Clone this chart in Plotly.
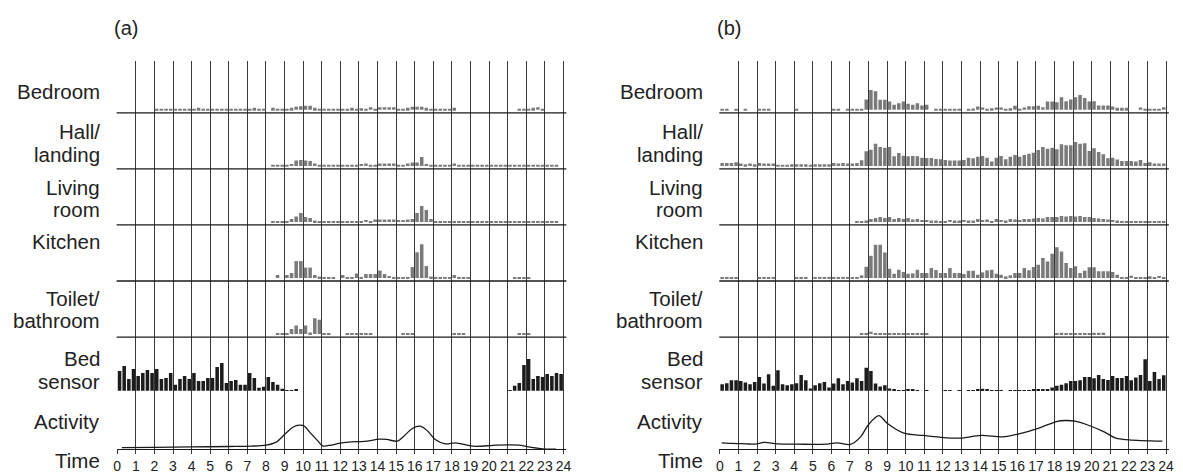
import numpy as np
import plotly.graph_objects as go

# ---------------- data (15-minute bins, 96 per day) ----------------
HOURS = list(range(25))

A_BEDROOM = [0,0,0,0, 0,0,0,0, .7,.7,.7,.7, .7,.7,.7,.7, .7,2,.7,.7, .7,.7,.7,.7,
             .7,.7,.7,.7, .7,2,.7,.7, 0,2,.7,.7, .7,2,3,3.5, 4,4,2,.7, .7,.7,.7,.7,
             .7,.7,2,.7, 1.5,.7,2.5,.7, 2.5,2.5,2.5,2.5, .7,.7,2,3, 3,3,2,.7, .7,.7,.7,.7,
             2,0,0,0, 0,0,0,0, 0,0,0,0, 0,0,.7,.7, .7,2,2.5,.7, 0,0,0,0]
A_HALL = [0,0,0,0, 0,0,0,0, 0,0,0,0, 0,0,0,0, 0,0,0,0, 0,0,0,0,
          0,0,0,0, 0,0,0,0, 0,.7,.7,.7, .7,2,5.5,6, 5.5,5,2.5,.7, .7,.7,.7,.7,
          .7,.7,.7,.7, 2,2.5,.7,.7, 2.5,2.5,2.5,2.5, .7,.7,2.5,3.5, 3.5,9,2,.7, .7,.7,.7,.7,
          2.5,.7,.7,.7, .7,.7,.7,.7, .7,.7,.7,.7, .7,.7,.7,.7, .7,.7,.7,.7, .7,.7,.7,0]
A_LIVING = [0,0,0,0, 0,0,0,0, 0,0,0,0, 0,0,0,0, 0,0,0,0, 0,0,0,0,
            0,0,0,0, 0,0,0,0, 0,.7,.7,.7, .7,3,5.5,9, 5,4,1.5,.7, .7,.7,.7,.7,
            .7,.7,.7,.7, .7,2,.7,2.5, 2.5,2.5,2.5,2.5, 2,2,2.5,3, 9,16,12,3, .7,.7,.7,.7,
            .7,.7,.7,.7, .7,.7,.7,.7, .7,.7,.7,.7, .7,.7,.7,.7, .7,.7,.7,.7, .7,.7,.7,0]
A_KITCHEN = [0,0,0,0, 0,0,0,0, 0,0,0,0, 0,0,0,0, 0,0,0,0, 0,0,0,0,
             0,0,0,0, 0,0,0,0, 0,0,3,0, 3,5,17,17, 10.5,10.5,3,1.5, .7,.7,.7,0,
             3,.7,.7,4.5, .7,4,4,4, 7.5,4,2,.7, .7,.7,.7,11, 26,34,12,1.5, .7,.7,.7,.7,
             3,.7,.7,.7, 0,0,0,0, 0,0,0,0, 0,.7,.7,.7, .7,0,0,0, 0,0,0,0]
A_TOILET = [0,0,0,0, 0,0,0,0, 0,0,0,0, 0,0,0,0, 0,0,0,0, 0,0,0,0,
            0,0,0,0, 0,0,0,0, 0,0,.7,.7, .7,5,8.5,5, 8.5,1.5,16,14.5, .7,.7,0,0,
            0,.7,.7,.7, .7,.7,.7,0, 0,0,0,0, 0,.7,.7,.7, 0,0,0,0, 0,0,0,0,
            .7,.7,.7,0, 0,0,0,0, 0,0,0,0, 0,0,.7,.7, .7,0,0,0, 0,0,0,0]
A_BED = [20,25,12,22, 15,18,21,18, 22,12,13,18, 6,12,15,12, 18,10,10,13, 13,24,28,8,
         10,11,6,6, 18,13,3,4, 14,9,6,2, .7,.7,1,0, 0,0,0,0, 0,0,0,0,
         0,0,0,0, 0,0,0,0, 0,0,0,0, 0,0,0,0, 0,0,0,0, 0,0,0,0,
         0,0,0,0, 0,0,0,0, 0,0,0,0, .7,5,8,26, 32,12,15,14, 17,15,18,17]
A_ACT_T = [0.25, 2, 4, 6, 7.2, 8.0, 8.55, 9.0, 9.45, 9.8, 10.07, 10.4, 10.8, 11.05, 11.5,
           12.0, 12.6, 13.3, 14.1, 14.5, 15.06, 15.4, 15.87, 16.3, 16.7, 17.1, 17.65,
           18.2, 18.8, 19.3, 20.4, 21.65, 22.2, 22.9, 23.6]
A_ACT_V = [1.5, 1.8, 2.2, 2.6, 3, 4, 7, 14.7, 22, 24, 23, 16, 8, 3.3, 4,
           6, 7.3, 7.7, 10, 9.7, 8, 12.7, 20.7, 23, 18, 9.7, 5.3,
           6.3, 4, 2.7, 4, 4, 2, 0.3, 0]

B_BEDROOM = [.7,.7,0,.7, 0,.7,0,0, .7,.7,.7,0, 0,0,0,0, .7,0,0,0, 0,0,0,0,
             .7,.7,0,.7, .7,.7,.7,10.3, 20,18.7,10,10, 8.3,5,6.7,8.3, 6,5,6.7,4.3, 5,0,.7,.7,
             .7,.7,.7,.7, 0,.7,1.3,3.3, 2.3,1,1.7,2.3, 2.3,1,1.7,4, 1,2.3,3.7,3.7, 4,2.7,8.3,8.3,
             7.7,12.7,8.7,10.3, 12.7,15,12,8.3, 8.7,4.3,4.3,4.3, 3.3,2,2,2, 0,0,2.3,1, 1,1,1,2.7]
B_HALL = [3,3,3,3.7, 2.3,1.7,2.3,1.7, 3,2.3,2.3,2.3, 1,1,1,1.7, 1.7,1.7,1.7,1, 1.7,1.7,1.7,1.7,
          3,2.3,3,2.3, 2.3,3,5.7,14.7, 16.3,22.3,19,18.3, 19,9.7,13,10.3, 9.7,10,9.7,8.3, 8,8,7,6.7,
          6,5.3,5.3,5.3, 6,8.3,7.7,9.3, 10,8.3,4.3,8.3, 10,6.7,9.3,11, 9.3,11,12.3,13.3, 16,19,17.3,18.3,
          16.7,21.7,20.7,20.7, 24,22.3,22.7,15, 17.7,14,11.7,7.7, 8.3,6.3,5,5, 5,4.3,6,3, 3.7,2.3,2.3,2.3]
B_LIVING = [0,0,0,0, 0,0,0,0, 0,0,0,0, 0,0,0,0, 0,0,0,0, 0,0,0,0,
            0,0,0,0, 0,.7,.7,1.5, 3,4,5,4, 5,3,4,3, 4,2.5,3,2, 2,1.5,1.5,.7,
            1,2,1.5,1.5, 2,1.5,1.5,3, 2,2.5,1,3, 2,1.5,3,2.5, 2,3,3,3.5, 4,3.5,5,5,
            5,6,5.5,6, 5.5,6,5,5, 4,3.5,3,2.5, 2,1.5,1,.7, .7,.7,.7,.7, .7,.7,.7,.7]
B_KITCHEN = [.7,.7,1,.7, 0,0,0,0, .7,1,1,.7, 0,0,0,0, .7,1,.7,0, .7,1,.7,.7,
             1,.7,.7,.7, .7,1,2.7,11.3, 22.3,33.3,33.3,25.7, 9.3,4.3,8.3,6, 4.3,4.7,8.3,5, 5,10,8,5,
             5,10,5,5, 4,7.3,7.3,3.3, 5.7,7.7,8.3,4.3, 3.3,1.7,2.7,5, 5,10,7.7,11, 13.3,20,16.7,24.3,
             31,26.7,15,10, 11.7,5,7.3,10.7, 10.7,6.7,6.7,6.7, 6,3.3,.7,.7, 2.3,.7,.7,.7, 1.7,.7,2,.7]
B_TOILET = [0,0,0,0, 0,0,0,0, 0,0,0,0, 0,0,0,0, 0,0,0,0, 0,0,0,0,
            0,0,0,0, 0,0,.7,.7, 2.3,1,1,.7, .7,.7,.7,.7, .7,.7,.7,.7, .7,0,0,0,
            0,0,0,0, 0,0,0,0, 0,0,0,0, 0,0,0,0, 0,0,0,0, 0,0,0,0,
            .7,1.3,.7,.7, .7,.7,.7,.7, 1.3,1.3,1.3,0, 0,0,0,0, 0,0,0,0, 0,0,0,0]
B_BED = [6.7,7.7,10.7,10.7, 10,8.3,6.7,9, 14,7.3,16.7,5, 20.7,6.7,5.7,6.7, 7.7,16,10.7,2.3, 5.7,7.7,9,3.3,
         7.3,12.7,6.7,10, 8.3,12.7,10,23.3, 20,7.3,4.3,5.7, 2.3,1.3,.7,.7, 1,1.3,.7,0, .7,0,0,0,
         .7,.7,0,.7, 0,.7,.7,1.3, 2,1,.7,.7, .7,0,.7,.7, .7,.7,.7,1, 1,1.3,1.3,3.3,
         5,6,7.7,10, 10,10.7,14,14, 12.7,16,12,11, 15,13,13,15, 10.7,13.3,16,31.7, 10,19,12,15.7]
B_ACT_T = [0.1, 0.7, 1.4, 1.9, 2.4, 3.1, 4.2, 5.1, 5.7, 6.3, 7.03, 7.56, 8.0, 8.55, 9.0, 9.9,
           10.95, 11.8, 12.9, 14.06, 15.2, 16.1, 17.2, 18.1, 18.6, 19.1, 20.0, 20.7, 21.3, 22.0, 23.8]
B_ACT_V = [6.3, 5.7, 5.3, 5, 6.7, 5.3, 5, 4.7, 5, 6.3, 4.7, 12, 24.7, 33.7, 26, 16,
           13.7, 12, 11, 13.7, 12.3, 15.3, 21.3, 27.7, 28.7, 28, 22.7, 17, 11, 9.3, 8]

PANELS = [
    {"tag": "(a)", "rooms": [A_BEDROOM, A_HALL, A_LIVING, A_KITCHEN, A_TOILET],
     "bed": A_BED, "act_t": A_ACT_T, "act_v": A_ACT_V},
    {"tag": "(b)", "rooms": [B_BEDROOM, B_HALL, B_LIVING, B_KITCHEN, B_TOILET],
     "bed": B_BED, "act_t": B_ACT_T, "act_v": B_ACT_V},
]

# ---------------- layout geometry (pixels) ----------------
W, H = 1183, 474
ROW_PX = [(61, 113.3), (113.3, 169.6), (169.6, 225.9), (225.9, 282.2),
          (282.2, 338.5), (338.5, 394.8), (394.8, 451.0)]
PANEL_X0 = [115.0, 721.7]          # pixel of hour 0
HOUR_PX = 18.72
XR = [-0.03, 24.15]
LABEL_RIGHT = [100, 707]
LABEL_LINES = [  # (text, centre y px)
    ("Bedroom", 92), ("Hall/", 132.5), ("landing", 155), ("Living", 188),
    ("room", 210), ("Kitchen", 243), ("Toilet/", 300), ("bathroom", 322),
    ("Bed", 360.5), ("sensor", 383), ("Activity", 423), ("Time", 462.5)]
FONT = "Liberation Sans, Arial, sans-serif"
BAR_GREY = "#7a7a7a"
BED_BLACK = "#1c1c1c"
GRID = "#3a3a3a"
LINE = "#1a1a1a"

X = np.arange(96) * 0.25 + 0.125

fig = go.Figure()
layout = {}
shapes = []
annotations = []

for p, panel in enumerate(PANELS):
    xname = "x" if p == 0 else "x2"
    xkey = "xaxis" if p == 0 else "xaxis2"
    x0px = PANEL_X0[p] + XR[0] * HOUR_PX
    x1px = PANEL_X0[p] + XR[1] * HOUR_PX
    series = panel["rooms"] + [panel["bed"]]
    for r in range(7):
        n = p * 7 + r + 1
        yname = "y" if n == 1 else f"y{n}"
        ykey = "yaxis" if n == 1 else f"yaxis{n}"
        top, bot = ROW_PX[r]
        h = bot - top
        if r < 6:
            off = 3.0 if r < 5 else 2.3
            vals = series[r]
            fig.add_trace(go.Bar(
                x=X, y=vals, width=0.19, xaxis=xname, yaxis=yname,
                marker=dict(color=BAR_GREY if r < 5 else BED_BLACK, line=dict(width=0)),
                hoverinfo="skip", showlegend=False))
            yr = [-off, h - off]
        else:
            fig.add_trace(go.Scatter(
                x=panel["act_t"], y=panel["act_v"], mode="lines",
                line=dict(color=LINE, width=1.3, shape="spline", smoothing=0.9),
                xaxis=xname, yaxis=yname, hoverinfo="skip", showlegend=False))
            yr = [0, h]
        layout[ykey] = dict(domain=[1 - bot / H, 1 - top / H], range=yr,
                            anchor=xname, visible=False, fixedrange=True)
        if r < 5:
            shapes.append(dict(type="line", xref=f"{xname} domain", yref=f"{yname} domain",
                               x0=0, x1=1, y0=0, y1=0, line=dict(color=LINE, width=1.3)))
    act_y = "y" + str(p * 7 + 7)
    layout[xkey] = dict(domain=[x0px / W, x1px / W], range=XR, anchor=act_y,
                        tickmode="array", tickvals=HOURS, ticktext=[str(v) for v in HOURS],
                        showgrid=True, gridcolor=GRID, gridwidth=1, zeroline=False,
                        showline=True, linecolor=LINE, linewidth=1.3,
                        ticks="outside", ticklen=4, tickcolor=GRID, tickwidth=1,
                        tickfont=dict(family=FONT, size=14, color="#222"),
                        fixedrange=True)
    for text, ypx in LABEL_LINES:
        annotations.append(dict(text=text, xref="paper", yref="paper",
                                x=LABEL_RIGHT[p] / W, y=1 - ypx / H,
                                xanchor="right", yanchor="middle", showarrow=False,
                                font=dict(family=FONT, size=20.5, color="#222")))
    annotations.append(dict(text=panel["tag"], xref="paper", yref="paper",
                            x=(PANEL_X0[p] - 5) / W, y=1 - 28 / H,
                            xanchor="left", yanchor="middle", showarrow=False,
                            font=dict(family=FONT, size=20, color="#222")))

fig.update_layout(**layout)
fig.update_layout(width=W, height=H, margin=dict(l=0, r=0, t=0, b=0),
                  paper_bgcolor="white", plot_bgcolor="white",
                  shapes=shapes, annotations=annotations, showlegend=False)
fig.write_html("out.html", config={"displayModeBar": False},
               post_script="document.body.style.margin='0px';")
